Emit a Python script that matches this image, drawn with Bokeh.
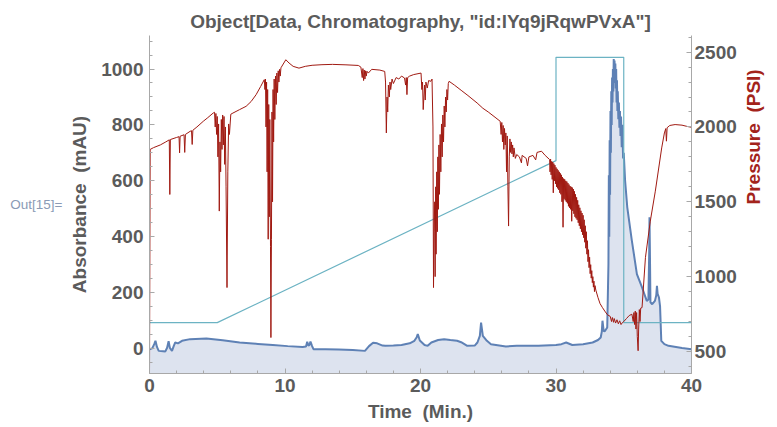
import math
from bokeh.plotting import figure
from bokeh.models import Range1d, LinearAxis, SingleIntervalTicker, FixedTicker
from bokeh.embed import file_html
from bokeh.resources import INLINE

# ---------------- data ----------------
title_text = 'Object[Data, Chromatography, "id:lYq9jRqwPVxA"]'
x_label = "Time \u00a0(Min.)"
y_label = "Absorbance \u00a0(mAU)"
y2_label = "Pressure \u00a0(PSI)"
out_label = "Out[15]="

# Absorbance trace (Min., mAU)
absorbance_pts = [
    (0.00, -3), (0.20, 0), (0.35, 15), (0.44, 27), (0.55, 5), (0.68, -9), (1.00, -10), (1.17, -11), (1.30, 2), (1.41, 26),
    (1.50, 2), (1.66, -9), (1.80, 10), (1.90, 21), (2.10, 18), (2.40, 27), (3.00, 33), (4.20, 35), (5.40, 29), (6.65, 21),
    (8.00, 16), (9.10, 12), (10.20, 8), (11.30, 5), (11.55, 7), (11.64, 24), (11.72, 10), (11.80, 12), (11.88, 24), (12.00, 8),
    (12.10, -3), (13.00, -3), (13.95, -4), (15.00, -6), (15.90, -9), (16.20, 8), (16.50, 20), (16.80, 18), (17.20, 10), (17.40, 9),
    (18.00, 10), (18.60, 12), (19.20, 18), (19.55, 27), (19.72, 40), (19.80, 51), (19.95, 28), (20.30, 12), (20.53, 9), (20.80, 21),
    (21.30, 30), (21.74, 33), (22.20, 30), (22.70, 27), (23.00, 22), (23.45, 9), (24.00, 10), (24.20, 21), (24.38, 45), (24.47, 92),
    (24.60, 45), (24.90, 27), (25.20, 15), (26.30, 7), (27.10, 9), (28.00, 9), (28.70, 9), (30.00, 12), (30.40, 15), (30.75, 21),
    (31.20, 12), (32.00, 15), (32.70, 21), (33.10, 30), (33.30, 39), (33.38, 60), (33.43, 99), (33.52, 62), (33.60, 61), (33.78, 75),
    (33.87, 300), (33.90, 620), (33.93, 400), (33.96, 745), (33.99, 550), (34.02, 850), (34.05, 700), (34.08, 920), (34.11, 800), (34.14, 970),
    (34.17, 880), (34.20, 1000), (34.23, 920), (34.26, 1036), (34.29, 960), (34.32, 1030), (34.35, 950), (34.38, 1020), (34.41, 930), (34.44, 1000),
    (34.47, 880), (34.50, 960), (34.53, 850), (34.56, 920), (34.60, 820), (34.64, 880), (34.68, 790), (34.72, 850), (34.76, 760), (34.80, 830),
    (34.85, 720), (34.90, 800), (34.95, 680), (35.00, 700), (35.10, 600), (35.26, 505), (35.60, 385), (35.97, 266), (36.35, 218), (36.70, 170),
    (36.82, 175), (36.88, 350), (36.90, 469), (36.93, 350), (36.97, 165), (37.10, 158), (37.30, 170), (37.40, 190), (37.45, 224), (37.50, 195),
    (37.60, 182), (37.68, 150), (37.77, 27), (38.00, 15), (38.30, 9), (39.30, 1), (40.00, -3),
]

# Pressure trace (Min., PSI)
pressure_pts = [
    (0.00, 340), (0.05, 1850), (0.30, 1862), (0.80, 1880), (1.20, 1900), (1.46, 1914), (1.50, 1549), (1.54, 1916),
    (2.00, 1930), (2.18, 1935), (2.22, 1827), (2.26, 1938), (2.55, 1948), (2.60, 1830), (2.65, 1950),
    (3.00, 1971), (3.10, 1975), (3.15, 1883), (3.20, 1978), (3.50, 2000), (3.97, 2038), (4.30, 2062), (4.70, 2093),
    (4.80, 2098), (4.85, 2000), (4.90, 2090), (4.95, 1950), (5.00, 2070), (5.05, 1800), (5.10, 2020), (5.15, 1438),
    (5.20, 1900), (5.25, 1700), (5.30, 2050), (5.35, 1850), (5.40, 2080), (5.45, 1880), (5.50, 2070), (5.55, 1750),
    (5.60, 2000), (5.65, 1600), (5.72, 927), (5.78, 1700), (5.84, 2020), (5.90, 1950), (6.00, 2085), (6.16, 2093),
    (6.65, 2116), (7.13, 2138), (7.50, 2170), (7.87, 2216), (8.20, 2270), (8.47, 2316),
    (8.52, 2250), (8.56, 2320), (8.60, 2000), (8.64, 2300), (8.68, 1700), (8.72, 2250), (8.76, 1250), (8.80, 2150),
    (8.84, 1400), (8.88, 2050), (8.93, 1200), (8.96, 593), (9.00, 1250), (9.04, 2100), (9.08, 1500), (9.12, 2250),
    (9.16, 1900), (9.20, 2320), (9.25, 2050), (9.30, 2340), (9.35, 2150), (9.40, 2360), (9.45, 2230), (9.50, 2375),
    (9.55, 2300), (9.60, 2385), (9.65, 2340), (9.70, 2395), (10.06, 2449), (10.30, 2427), (10.60, 2405), (11.03, 2393),
    (11.50, 2405), (12.00, 2412), (12.73, 2416), (13.50, 2418), (14.50, 2415), (15.41, 2411),
    (15.60, 2400), (15.70, 2330), (15.75, 2390), (15.80, 2310), (15.85, 2380), (15.90, 2320), (15.95, 2375), (16.00, 2340),
    (16.05, 2372), (16.15, 2360), (16.40, 2385), (17.00, 2380), (17.36, 2371),
    (17.42, 2300), (17.48, 1960), (17.53, 2200), (17.58, 2100), (17.63, 2280), (17.70, 2200), (17.75, 2300), (17.80, 2250),
    (17.90, 2320), (18.00, 2290), (18.20, 2330), (18.40, 2320), (18.60, 2340), (18.82, 2327), (18.90, 2280), (18.95, 2330),
    (19.00, 2216), (19.05, 2330), (19.20, 2340), (19.50, 2350), (20.04, 2360),
    (20.10, 2250), (20.15, 2300), (20.20, 2116), (20.25, 2200), (20.30, 2280), (20.35, 2180), (20.40, 2300), (20.50, 2260),
    (20.60, 2310), (20.77, 2305), (20.85, 2320), (20.92, 2000), (20.96, 927), (21.00, 1300),
    (21.05, 1500), (21.08, 1000), (21.12, 1600), (21.15, 1150), (21.20, 1700), (21.24, 1300), (21.28, 1800), (21.32, 1450),
    (21.36, 1880), (21.40, 1550), (21.45, 1950), (21.50, 1700), (21.55, 2020), (21.60, 1800), (21.65, 2080), (21.70, 1900),
    (21.75, 2140), (21.80, 2000), (21.85, 2200), (21.90, 2100), (21.95, 2250), (22.00, 2180), (22.05, 2290), (22.11, 2305),
    (22.50, 2280), (23.00, 2245), (23.50, 2210), (24.18, 2160), (24.60, 2125), (25.00, 2100), (25.50, 2065), (25.88, 2038),
    (25.95, 1950), (26.00, 2030), (26.05, 1900), (26.10, 2010), (26.15, 1850), (26.20, 1990), (26.25, 1880), (26.30, 1960),
    (26.35, 1700), (26.40, 1940), (26.45, 1600), (26.50, 1338), (26.55, 1800), (26.60, 1920), (26.65, 1830), (26.70, 1900),
    (26.75, 1820), (26.80, 1880), (26.85, 1800), (26.90, 1860), (27.00, 1790), (27.10, 1816),
    (27.30, 1800), (27.45, 1760), (27.50, 1810), (27.80, 1790), (27.90, 1740), (28.00, 1800), (28.30, 1810), (28.50, 1780),
    (28.60, 1830), (28.93, 1838), (29.20, 1810), (29.53, 1782),
    (29.56, 1700), (29.60, 1785), (29.64, 1680), (29.68, 1770), (29.72, 1650), (29.76, 1765), (29.80, 1560), (29.84, 1755),
    (29.88, 1640), (29.92, 1745), (29.96, 1620), (30.00, 1730), (30.04, 1600), (30.08, 1720), (30.12, 1590), (30.16, 1710),
    (30.20, 1580), (30.24, 1700), (30.28, 1560), (30.32, 1690), (30.36, 1550), (30.40, 1680), (30.44, 1500), (30.48, 1665),
    (30.52, 1330), (30.56, 1655), (30.60, 1520), (30.64, 1650), (30.68, 1510), (30.72, 1640), (30.76, 1500), (30.80, 1635),
    (30.84, 1490), (30.88, 1625), (30.92, 1470), (30.96, 1615), (31.00, 1460), (31.04, 1605), (31.08, 1450), (31.12, 1600),
    (31.16, 1370), (31.20, 1595), (31.24, 1440), (31.28, 1585), (31.32, 1420), (31.36, 1570), (31.40, 1400), (31.44, 1550),
    (31.48, 1390), (31.52, 1530), (31.56, 1380), (31.60, 1510), (31.64, 1360), (31.68, 1480), (31.72, 1340), (31.76, 1460),
    (31.80, 1320), (31.84, 1440), (31.88, 1300), (31.92, 1425), (31.96, 1280), (32.00, 1410), (32.04, 1260), (32.08, 1380),
    (32.12, 1230), (32.16, 1340), (32.20, 1190), (32.24, 1300), (32.28, 1150), (32.32, 1240), (32.36, 1100), (32.40, 1180),
    (32.44, 1060), (32.48, 1130), (32.52, 1020), (32.56, 1080), (32.60, 990), (32.64, 1040), (32.68, 960), (32.72, 1000),
    (32.76, 930), (32.80, 970), (32.84, 900), (32.88, 940), (32.94, 910),
    (33.10, 860), (33.25, 820), (33.43, 793), (33.60, 770), (33.80, 745), (34.00, 735), (34.10, 700), (34.16, 727),
    (34.25, 695), (34.30, 720), (34.40, 690), (34.50, 712), (34.60, 685), (34.70, 705), (34.80, 680), (34.90, 693),
    (35.00, 700), (35.20, 720), (35.40, 740), (35.60, 749), (35.70, 700), (35.75, 760), (35.80, 680), (35.85, 770),
    (35.90, 650), (35.95, 760), (36.00, 600), (36.06, 505), (36.10, 650), (36.15, 780), (36.20, 700), (36.25, 790),
    (36.35, 793), (36.60, 1127), (36.96, 1371), (37.33, 1571), (37.80, 1860), (38.00, 1960), (38.10, 1989), (38.15, 1905),
    (38.20, 1995), (38.40, 2010), (38.79, 2016), (39.30, 2012), (39.70, 2003), (40.00, 1998),
]

# Gradient trace (drawn on the absorbance scale)
gradient_time = [0, 5, 30, 30, 35, 35, 40]
gradient_value = [92, 92, 672, 1042, 1042, 92, 92]

abs_time = [t for t, _ in absorbance_pts]
abs_value = [v for _, v in absorbance_pts]
psi_time = [t for t, _ in pressure_pts]
psi_value = [v for _, v in pressure_pts]

# ---------------- styling ----------------
FONT = "Liberation Sans"
TEXT_COLOR = "#5b5b5b"
AXIS_COLOR = "#a8a8a8"
BLUE = "#5e81b5"
FILL = "#dde3ef"
RED = "#a01a12"
TEAL = "#6cb3c3"

W, H = 777, 427
p = figure(width=W, height=H, output_backend="svg", toolbar_location=None, title=title_text,
           x_range=Range1d(0, 40), y_range=Range1d(-90, 1120),
           min_border_left=149, min_border_right=80, min_border_top=35, min_border_bottom=54,
           background_fill_color="white", border_fill_color="white")
p.extra_y_ranges = {"psi": Range1d(353, 2611)}
p.outline_line_color = None
p.xgrid.visible = False
p.ygrid.visible = False

p.title.align = "center"
p.title.text_font = FONT
p.title.text_font_size = "19px"
p.title.text_font_style = "bold"
p.title.text_color = TEXT_COLOR
p.title.standoff = 8

p.varea(x=abs_time, y1=-300, y2=abs_value, fill_color=FILL, fill_alpha=1.0)
p.line(abs_time, abs_value, line_color=BLUE, line_width=2)
p.line(gradient_time, gradient_value, line_color=TEAL, line_width=1.2)
p.line(psi_time, psi_value, line_color=RED, line_width=1.0, y_range_name="psi")

right_axis = LinearAxis(y_range_name="psi")
p.add_layout(right_axis, "right")

out_axis = LinearAxis(ticker=FixedTicker(ticks=[]))
p.add_layout(out_axis, "left")

p.xaxis.ticker = SingleIntervalTicker(interval=10, num_minor_ticks=5)
p.yaxis[0].ticker = SingleIntervalTicker(interval=200, num_minor_ticks=4)
right_axis.ticker = SingleIntervalTicker(interval=500, num_minor_ticks=5)

for ax in [p.xaxis[0], p.yaxis[0], right_axis]:
    ax.axis_line_color = AXIS_COLOR
    ax.major_tick_line_color = AXIS_COLOR
    ax.minor_tick_line_color = AXIS_COLOR
    ax.major_tick_in = 5
    ax.major_tick_out = 0
    ax.minor_tick_in = 3
    ax.minor_tick_out = 0
    ax.major_label_text_font = FONT
    ax.major_label_text_font_style = "bold"
    ax.major_label_text_font_size = "19px"
    ax.major_label_text_color = TEXT_COLOR
    ax.axis_label_text_font = FONT
    ax.axis_label_text_font_style = "bold"
    ax.axis_label_text_font_size = "19px"
    ax.axis_label_text_color = TEXT_COLOR

p.xaxis[0].major_label_standoff = 5
p.xaxis[0].axis_label = x_label
p.xaxis[0].axis_label_standoff = 6

p.yaxis[0].major_label_standoff = 6
p.yaxis[0].axis_label = y_label
p.yaxis[0].axis_label_standoff = 8

right_axis.major_label_standoff = 3
right_axis.axis_label = y2_label
right_axis.axis_label_standoff = 14
right_axis.axis_label_text_color = "#a3231b"
right_axis.axis_label_orientation = math.pi / 2

out_axis.axis_line_color = None
out_axis.major_tick_line_color = None
out_axis.minor_tick_line_color = None
out_axis.major_tick_in = 0
out_axis.major_tick_out = 0
out_axis.minor_tick_in = 0
out_axis.minor_tick_out = 0
out_axis.major_label_standoff = 0
out_axis.axis_label = out_label
out_axis.axis_label_orientation = "horizontal"
out_axis.axis_label_standoff = 4
out_axis.axis_label_text_font = FONT
out_axis.axis_label_text_font_style = "normal"
out_axis.axis_label_text_font_size = "13.5px"
out_axis.axis_label_text_color = "#8a9ab5"

open("out.html", "w").write(file_html(p, INLINE))
